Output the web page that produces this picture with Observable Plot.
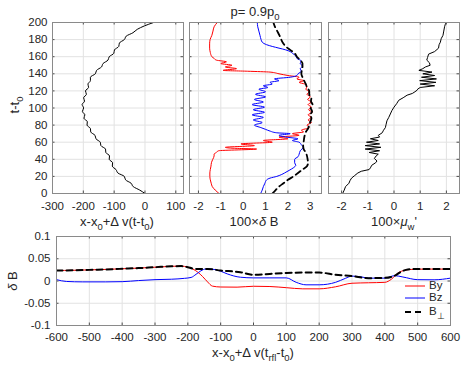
<!DOCTYPE html>
<html><head><meta charset="utf-8">
<script src="https://cdn.jsdelivr.net/npm/d3@7"></script>
<script src="https://cdn.jsdelivr.net/npm/@observablehq/plot@0.6"></script>
<style>
body{margin:0;background:#fff;font-family:"Liberation Sans",Arial,sans-serif;color:#262626}
#wrap{position:relative;width:469px;height:366px;overflow:hidden;background:#fff}
.p{position:absolute}
.p svg{overflow:visible}
.lab{position:absolute;font-size:13px;white-space:nowrap;line-height:1;color:#262626}
.lab sub{font-size:9.5px;vertical-align:-4px;line-height:0}
.rot{transform:translate(-50%,-50%) rotate(-90deg)}
.ctr{transform:translate(-50%,-50%)}
.leg{font-size:11.5px}
.leg sub{font-size:8.5px}
</style></head><body><div id="wrap"></div>
<script>
// ---------- data ----------
const tTicks = [0,20,40,60,80,100,120,140,160,180,200];
const xTicksLeft = [-300,-200,-100,0,100];
const xTicksMid = [-2,-1,0,1,2,3];
const xTicksRight = [-2,-1,0,1,2];
const xTicksBottom = [-600,-500,-400,-300,-200,-100,0,100,200,300,400,500,600];
const yTicksBottom = [-0.1,-0.05,0,0.05,0.1];

// left panel: x-x0+Δv(t-t0) vs t-t0
const tLeft = [0,4,8,12,16,20,24,28,32,36,40,44,48,52,56,60,64,68,72,76,80,84,88,92,96,100,104,108,112,116,120,124,128,132,136,140,144,148,152,156,160,164,168,172,176,180,184,188,192,196,200];
const xLeft = [0,-17,-38,-45,-63,-67,-88,-94,-106,-105,-116,-115,-127,-128,-143,-145,-159,-162,-176,-177,-188,-187,-198,-195,-203,-199,-204,-196,-199,-190,-193,-183,-185,-177,-177,-161,-157,-141,-136,-120,-116,-101,-99,-85,-83,-67,-61,-39,-25,-2,28];

// middle panel: 100×δB components vs t-t0
const tBy = [0,4,8,12,16,20,24,28,32,36,40,44,46,48,50,52,53,54,56,58,60,62,64,66,68,70,72,74,77,80,83,86,89,92,95,98,101,104,107,110,113,116,119,122,125,128,130,132,134,136,138,140,142,143,144,146,148,150,152,154,156,158,160,165,170,175,180,185,190,195,200];
const By = [-1.08,-1.25,-1.38,-1.43,-1.47,-1.49,-1.49,-1.47,-1.44,-1.42,-1.36,-1.3,-1.3,-1.2,-1.1,0.6,-0.5,-0.8,0.5,-0.1,1.3,0.9,2.0,1.6,2.5,2.2,2.7,2.6,2.95,2.85,3.05,2.9,3.05,2.9,3.08,2.92,3.05,2.9,3.05,2.88,3.0,2.85,2.95,2.8,2.85,2.75,2.5,2.7,2.4,2.5,2.0,1.6,1.2,0.2,-0.9,-0.3,-0.8,-0.5,-1.0,-0.75,-1.2,-1.3,-1.4,-1.47,-1.5,-1.5,-1.48,-1.4,-1.35,-1.3,-1.16];
const tBz = [0,4,8,12,16,18,20,22,24,27,30,33,36,40,43,46,50,54,57,60,62,64,66,68,70,71,73,75,77,80,83,86,89,92,95,98,101,104,107,110,113,116,119,122,124,126,128,130,132,134,136,138,140,143,146,149,152,155,158,161,164,166,168,170,172,174,177,180,185,190,195,200];
const Bz = [0.78,0.85,0.9,0.97,1.05,1.2,1.5,1.7,1.85,2.05,2.24,2.35,2.3,2.3,2.45,2.5,2.55,2.68,2.6,2.5,2.2,2.45,1.9,1.6,2.1,1.5,1.2,1.0,0.8,0.5,0.85,0.45,0.9,0.4,0.95,0.45,0.95,0.4,0.9,0.5,1.0,0.55,1.0,0.7,1.1,0.9,1.3,1.2,1.6,1.4,2.1,2.4,2.45,2.6,2.55,2.65,2.55,2.6,2.4,2.35,2.2,2.1,1.9,1.6,1.3,1.05,0.85,0.8,0.75,0.7,0.65,0.63];
const tBp = [0,4,8,12,16,20,24,28,32,36,40,44,48,52,56,60,64,68,72,76,80,84,88,92,96,100,104,108,112,116,120,124,128,132,136,140,144,148,152,156,160,164,168,172,176,180,185,190,195,200];
const Bp = [1.31,1.45,1.6,1.8,2.0,2.25,2.45,2.65,2.85,2.9,2.88,2.85,2.8,2.7,2.68,2.7,2.72,2.75,2.8,2.9,2.95,3.0,3.05,3.0,3.08,3.02,3.1,3.03,3.05,2.95,2.95,2.85,2.8,2.72,2.65,2.6,2.62,2.65,2.65,2.55,2.4,2.3,2.1,1.9,1.78,1.7,1.62,1.52,1.42,1.35];

// right panel: 100×μw' vs t-t0
const tMu = [0,4,8,12,15,18,21,24,26,28,30,33,36,38,41,44,46,48,50,52,54,56,58,60,62,64,66,68,71,74,77,81,85,89,93,97,101,105,109,112,115,117,119,121,122,124,126,128,130,132,134,136,138,140,142,144,146,148,150,153,156,159,163,166,170,174,177,181,185,190,195,198,200];
const Mu = [-1.96,-1.9,-1.85,-1.72,-1.68,-1.62,-1.5,-1.38,-1.25,-0.95,-0.9,-0.85,-0.7,-0.65,-0.75,-0.68,-0.6,-0.95,-0.55,-1.1,-0.5,-1.1,-0.55,-1.05,-0.6,-0.9,-0.55,-0.6,-0.45,-0.4,-0.33,-0.3,-0.27,-0.2,-0.14,-0.08,0.0,0.1,0.18,0.35,0.5,0.7,0.8,0.89,0.9,1.0,1.55,1.0,1.6,0.98,1.62,1.05,1.55,1.1,1.45,0.95,1.1,1.2,1.38,1.35,1.25,1.28,1.32,1.55,1.7,1.72,1.77,1.8,1.87,1.9,1.93,1.96,2.0];

// bottom panel: δB vs x-x0+Δv(t_rfl-t0)
const xBy2 = [-600,-550,-500,-450,-400,-350,-300,-250,-220,-200,-185,-170,-155,-140,-125,-100,-50,0,50,100,150,200,250,300,350,400,420,440,460,480,500,550,600];
const By2 = [0.0236,0.024,0.025,0.026,0.0275,0.029,0.031,0.033,0.0335,0.031,0.027,0.02,0.01,-0.002,-0.0115,-0.0135,-0.0138,-0.0118,-0.0124,-0.015,-0.0176,-0.0176,-0.013,-0.005,-0.004,-0.003,0.004,0.018,0.024,0.026,0.0266,0.0268,0.0266];
const xBz2 = [-600,-570,-520,-450,-400,-350,-300,-250,-210,-190,-175,-160,-145,-120,-100,-80,-40,0,50,100,130,160,200,250,280,300,330,350,400,430,455,500,550,600];
const Bz2 = [0.003,-0.001,-0.002,-0.002,-0.0015,0.001,0.003,0.004,0.006,0.008,0.015,0.023,0.027,0.026,0.022,0.016,0.0085,0.007,0.007,0.007,-0.003,-0.0086,-0.0086,-0.003,0.006,0.011,0.009,0.0064,0.0064,0.012,0.009,0.003,0.0027,0.0064];
const xBp2 = [-600,-550,-500,-450,-400,-350,-300,-250,-220,-200,-185,-170,-140,-100,-40,0,50,100,150,200,250,300,350,400,430,450,470,500,550,600];
const Bp2 = [0.0236,0.024,0.025,0.026,0.0275,0.029,0.031,0.033,0.0335,0.031,0.028,0.027,0.027,0.0236,0.0198,0.014,0.016,0.018,0.019,0.019,0.014,0.011,0.0064,0.007,0.012,0.021,0.026,0.027,0.027,0.027];

const RED = "#ff0000", BLUE = "#0000ff", BLACK = "#000000";

// ---------- helpers ----------
const zip = (a, b) => a.map((v, i) => ({a: v, b: b[i]}));
const wrap = document.getElementById("wrap");

function panel(o) {
  const W = o.width - o.ml - o.mr, H = o.height - o.mt - o.mb;
  const tickStroke = "#4d4d4d";
  const marks = [
    Plot.gridX(o.xTicks, {stroke: "#e2e2e2", strokeOpacity: 1}),
    Plot.gridY(o.yTicks, {stroke: "#e2e2e2", strokeOpacity: 1}),
    ...o.marks,
    Plot.tickY(o.yTicks, {y: d => d, stroke: tickStroke, insetRight: W - 2.5}),
    Plot.tickY(o.yTicks, {y: d => d, stroke: tickStroke, insetLeft: W - 2.5}),
    Plot.tickX(o.xTicks, {x: d => d, stroke: tickStroke, insetTop: H - 2.5}),
    Plot.tickX(o.xTicks, {x: d => d, stroke: tickStroke, insetBottom: H - 2.5}),
    Plot.frame({stroke: "#8a8a8a", strokeWidth: 1}),
    Plot.axisX(o.xTicks, {tickSize: 0, tickPadding: o.xPad, label: null, tickFormat: d => String(d), fontSize: 11.5, fill: "#262626"})
  ];
  if (o.yLabels) marks.push(Plot.axisY(o.yTicks, {tickSize: 0, tickPadding: o.yPad, label: null, tickFormat: d => String(d), fontSize: 11.5, fill: "#262626"}));
  const svg = Plot.plot({
    width: o.width, height: o.height,
    marginLeft: o.ml, marginRight: o.mr, marginTop: o.mt, marginBottom: o.mb,
    x: {domain: o.xDomain, axis: null},
    y: {domain: o.yDomain, axis: null},
    style: {background: "transparent", fontFamily: "'Liberation Sans', Arial, sans-serif", fontSize: "11.5px", color: "#262626"},
    marks
  });
  const d = document.createElement("div");
  d.className = "p";
  d.style.left = o.left + "px";
  d.style.top = o.top + "px";
  d.appendChild(svg);
  wrap.appendChild(d);
}

function label(html, x, y, cls) {
  const d = document.createElement("div");
  d.className = "lab " + cls;
  d.style.left = x + "px";
  d.style.top = y + "px";
  d.innerHTML = html;
  wrap.appendChild(d);
}

// ---------- top-left ----------
panel({
  left: 0, top: 0, width: 190, height: 230, ml: 52, mr: 7, mt: 22, mb: 37,
  xDomain: [-300, 125], yDomain: [0, 200], xTicks: xTicksLeft, yTicks: tTicks,
  yLabels: true, xPad: 8, yPad: 5,
  marks: [
    Plot.line(zip(tLeft, xLeft), {x: "b", y: "a", stroke: BLACK, strokeWidth: 1, curve: "monotone-y", clip: true})
  ]
});

// ---------- top-middle ----------
panel({
  left: 185, top: 0, width: 140, height: 230, ml: 4, mr: 4, mt: 22, mb: 37,
  xDomain: [-2.4, 3.5], yDomain: [0, 200], xTicks: xTicksMid, yTicks: tTicks,
  yLabels: false, xPad: 8,
  marks: [
    Plot.line(zip(tBy, By), {x: "b", y: "a", stroke: RED, strokeWidth: 1, curve: "monotone-y", clip: true}),
    Plot.line(zip(tBz, Bz), {x: "b", y: "a", stroke: BLUE, strokeWidth: 1, curve: "monotone-y", clip: true}),
    Plot.line(zip(tBp, Bp), {x: "b", y: "a", stroke: BLACK, strokeWidth: 1.8, strokeDasharray: "6,4", curve: "monotone-y", clip: true})
  ]
});

// ---------- top-right ----------
panel({
  left: 324, top: 0, width: 139, height: 230, ml: 4, mr: 4, mt: 22, mb: 37,
  xDomain: [-2.5, 2.5], yDomain: [0, 200], xTicks: xTicksRight, yTicks: tTicks,
  yLabels: false, xPad: 8,
  marks: [
    Plot.line(zip(tMu, Mu), {x: "b", y: "a", stroke: BLACK, strokeWidth: 1, clip: true})
  ]
});

// ---------- bottom ----------
panel({
  left: 0, top: 230, width: 469, height: 136, ml: 56, mr: 19, mt: 6, mb: 41,
  xDomain: [-600, 600], yDomain: [-0.1, 0.1], xTicks: xTicksBottom, yTicks: yTicksBottom,
  yLabels: true, xPad: 7, yPad: 6,
  marks: [
    Plot.line(zip(xBy2, By2), {x: "a", y: "b", stroke: RED, strokeWidth: 1, curve: "monotone-x", clip: true}),
    Plot.line(zip(xBz2, Bz2), {x: "a", y: "b", stroke: BLUE, strokeWidth: 1, curve: "monotone-x", clip: true}),
    Plot.line(zip(xBp2, Bp2), {x: "a", y: "b", stroke: BLACK, strokeWidth: 2, strokeDasharray: "6,4", curve: "monotone-x", clip: true})
  ]
});

// ---------- text ----------
label("p= 0.9p<sub>0</sub>", 255, 11, "ctr");
label("t-t<sub>0</sub>", 14, 105, "rot");
label("x-x<sub>0</sub>+&Delta; v(t-t<sub>0</sub>)", 117, 221, "ctr");
label("100&times;<i>&delta;</i> B", 254, 221, "ctr");
label("100&times;<i>&mu;</i><sub>w</sub>'", 394, 221, "ctr");
label("<i>&delta;</i> B", 12, 281, "rot");
label("x-x<sub>0</sub>+&Delta; v(t<sub>rfl</sub>-t<sub>0</sub>)", 253, 352, "ctr");

// legend
const legendItems = [
  {name: "By", color: RED, dash: null, w: 1, y: 286},
  {name: "Bz", color: BLUE, dash: null, w: 1, y: 298},
  {name: "B<sub>&perp;</sub>", color: BLACK, dash: "6,4", w: 2, y: 312}
];
for (const it of legendItems) {
  const d = document.createElement("div");
  d.style.position = "absolute";
  d.style.left = "404px";
  d.style.top = (it.y - 6) + "px";
  d.style.height = "12px";
  d.style.display = "flex";
  d.style.alignItems = "center";
  d.innerHTML = `<svg width="22" height="12"><line x1="1" x2="21" y1="6" y2="6" stroke="${it.color}" stroke-width="${it.w}" ${it.dash ? `stroke-dasharray="${it.dash}"` : ""}/></svg><span class="lab leg" style="position:static;margin-left:3px">${it.name}</span>`;
  wrap.appendChild(d);
}
</script>
</body></html>
